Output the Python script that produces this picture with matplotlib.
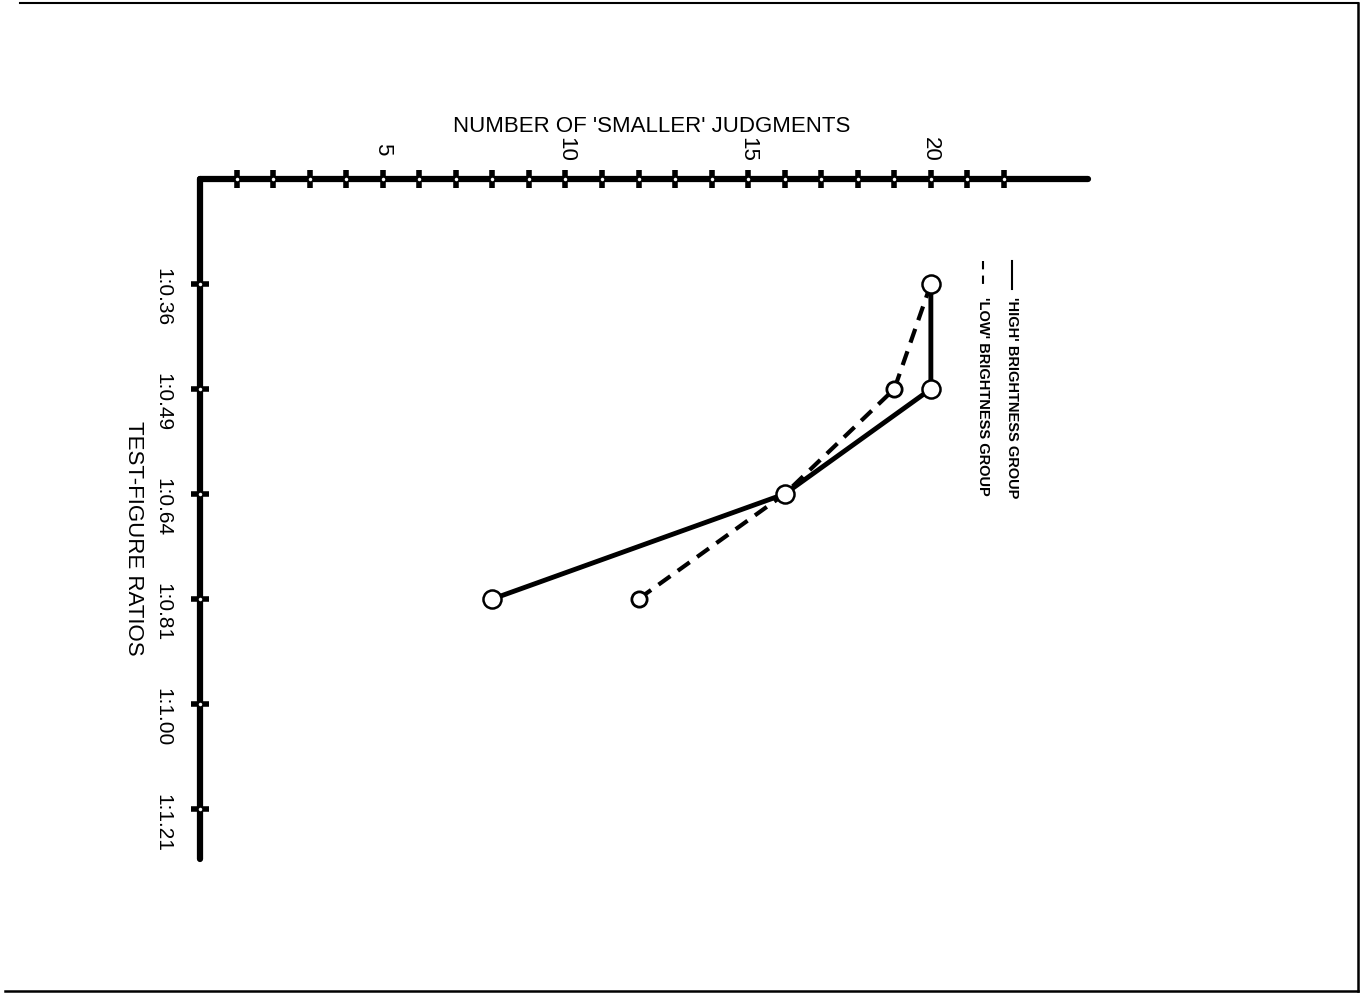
import matplotlib.pyplot as plt
from matplotlib.lines import Line2D

# Test-figure area ratios (rows) and counts of 'smaller' judgments
ratio_labels = ["1:0.36", "1:0.49", "1:0.64", "1:0.81", "1:1.00", "1:1.21"]
ratio_pos = [1, 2, 3, 4, 5, 6]
high_rows = [1, 2, 3, 4]
high_counts = [20, 20, 16, 8]
low_rows = [1, 2, 3, 4]
low_counts = [20, 19, 16, 12]
count_ticks = list(range(1, 23))
count_labels = [5, 10, 15, 20]

plt.rcParams['font.family'] = ['Liberation Sans', 'DejaVu Sans']

fig = plt.figure(figsize=(13.64, 9.95), dpi=100)
ax = fig.add_axes([200 / 1364, 1 - 860 / 995, 888 / 1364, 680 / 995])
ax.set_xlim(0, 24.3)
ax.set_ylim(6.476, 0)

# lines first, circles on top with white fill
ax.plot(low_counts, low_rows, color='black', lw=3, ls=(0, (3.5, 2.2)), zorder=3)
ax.plot(high_counts, high_rows, color='black', lw=3.5, zorder=3)
ax.plot(low_counts, low_rows, ls='none', marker='o', ms=11, mfc='white',
        mec='black', mew=2, zorder=4)
ax.plot(high_counts, high_rows, ls='none', marker='o', ms=13, mfc='white',
        mec='black', mew=1.8, zorder=5)

# axes: only the top and left bars
for side in ['right', 'bottom']:
    ax.spines[side].set_visible(False)
for side in ['top', 'left']:
    ax.spines[side].set_linewidth(4.5)
    ax.spines[side].set_capstyle('round')

ax.xaxis.set_ticks_position('top')
ax.set_xticks(count_ticks)
ax.set_xticklabels([])
ax.tick_params(axis='x', direction='inout', length=13, width=4, top=True, bottom=False)
ax.set_yticks(ratio_pos)
ax.set_yticklabels([])
ax.tick_params(axis='y', direction='inout', length=13, width=4)

# small white centres on the tick marks
ax.plot(count_ticks, [0] * len(count_ticks), ls='none', marker='o', ms=2.5,
        mfc='white', mec='none', clip_on=False, zorder=6)
ax.plot([0] * len(ratio_pos), ratio_pos, ls='none', marker='o', ms=2.5,
        mfc='white', mec='none', clip_on=False, zorder=6)

# rotated tick labels
for v in count_labels:
    ax.annotate(str(v), xy=(v, 0), xycoords='data', xytext=(0, 22),
                textcoords='offset points', rotation=-90, ha='center',
                va='center', fontsize=16, annotation_clip=False)
for p, lab in zip(ratio_pos, ratio_labels):
    ax.annotate(lab, xy=(0, p), xycoords='data', xytext=(-27, -9),
                textcoords='offset points', rotation=-90, ha='center',
                va='center', fontsize=15, annotation_clip=False)

fig.text(652 / 1364, 1 - 126 / 995, "NUMBER OF 'SMALLER' JUDGMENTS",
         ha='center', va='center', fontsize=16)
fig.text(133 / 1364, 1 - 538 / 995, "TEST-FIGURE RATIOS", rotation=-90,
         ha='center', va='center', fontsize=16)

# key, written sideways like the rest of the figure
for xpx, style, lab in [(1012, '-', "'HIGH' BRIGHTNESS GROUP"),
                        (983, (0, (4, 3)), "'LOW' BRIGHTNESS GROUP")]:
    fig.add_artist(Line2D([xpx / 1364, xpx / 1364],
                          [1 - 262 / 995, 1 - 290 / 995],
                          color='black', lw=1.5, ls=style))
    fig.text(xpx / 1364, 1 - 297 / 995, lab, rotation=-90, ha='center',
             va='top', fontsize=10.5, fontweight='bold')

# page frame
fig.add_artist(Line2D([20 / 1364, 1358 / 1364], [1 - 4 / 995, 1 - 4 / 995],
                      color='black', lw=1.5))
fig.add_artist(Line2D([1358 / 1364, 1358 / 1364], [1 - 4 / 995, 1 - 992 / 995],
                      color='black', lw=1.8))
fig.add_artist(Line2D([5 / 1364, 1358 / 1364], [1 - 992 / 995, 1 - 992 / 995],
                      color='black', lw=1.8))

fig.savefig('out.png', dpi=100, facecolor='white')
